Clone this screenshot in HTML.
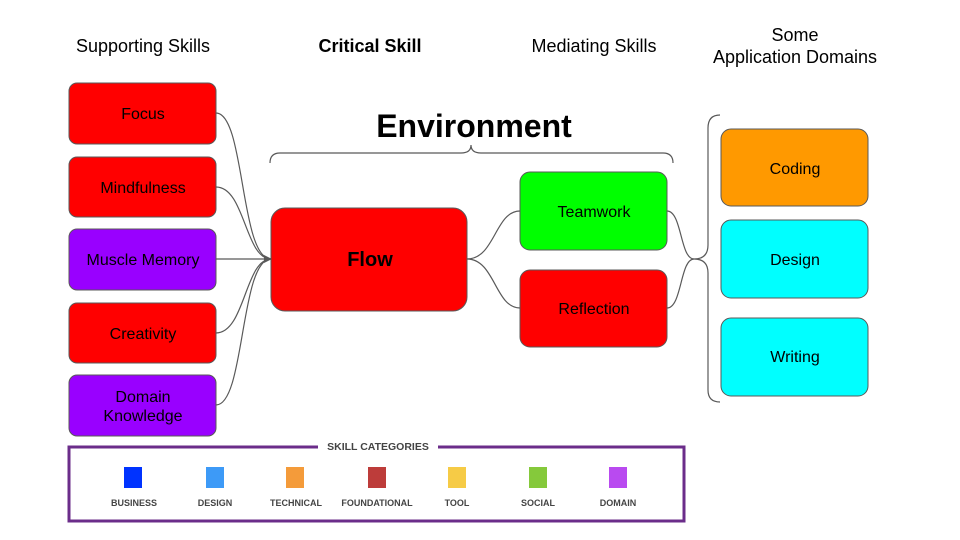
<!DOCTYPE html>
<html><head><meta charset="utf-8"><style>
html,body{margin:0;padding:0;background:#fff;}
svg{display:block;font-family:"Liberation Sans",Arial,sans-serif;}
</style></head><body>
<svg width="960" height="540" viewBox="0 0 960 540">
<g font-size="18" text-anchor="middle" fill="#000">
<text x="143" y="52">Supporting Skills</text>
<text x="370" y="52" font-weight="bold">Critical Skill</text>
<text x="594" y="52">Mediating Skills</text>
<text x="795" y="41">Some</text>
<text x="795" y="63">Application Domains</text>
</g>
<g fill="none" stroke="#595959" stroke-width="1.2">
<path d="M216,113 C245,113 240,259 271,259"/>
<path d="M216,187 C245,187 245,259 271,259"/>
<path d="M216,259 L271,259"/>
<path d="M216,333 C245,333 245,259 271,259"/>
<path d="M216,405 C245,405 240,259 271,259"/>
<path d="M467,259 C495,259 495,211 520,211"/>
<path d="M467,259 C495,259 495,308 520,308"/>
<path d="M667,211 C682,211 680,259 694,259"/>
<path d="M667,308 C682,308 680,259 694,259"/>
<path d="M270,163 Q270,153 280,153 L461,153 Q471,153 471,145 Q471,153 481,153 L663,153 Q673,153 673,163"/>
<path d="M720,115 Q708,115 708,128 L708,245 Q708,259 694,259 Q708,259 708,273 L708,390 Q708,402 720,402"/>
</g>
<polygon points="264,255 272,259 264,263" fill="#595959"/>
<g stroke="#595959" stroke-width="1">
<rect x="69" y="83" width="147" height="61" rx="8" fill="#ff0000"/>
<rect x="69" y="157" width="147" height="60" rx="8" fill="#ff0000"/>
<rect x="69" y="229" width="147" height="61" rx="8" fill="#9900ff"/>
<rect x="69" y="303" width="147" height="60" rx="8" fill="#ff0000"/>
<rect x="69" y="375" width="147" height="61" rx="8" fill="#9900ff"/>
<rect x="271" y="208" width="196" height="103" rx="14" fill="#ff0000"/>
<rect x="520" y="172" width="147" height="78" rx="10" fill="#00ff00"/>
<rect x="520" y="270" width="147" height="77" rx="10" fill="#ff0000"/>
<rect x="721" y="129" width="147" height="77" rx="10" fill="#ff9900"/>
<rect x="721" y="220" width="147" height="78" rx="10" fill="#00ffff"/>
<rect x="721" y="318" width="147" height="78" rx="10" fill="#00ffff"/>
</g>
<g font-size="16" text-anchor="middle" fill="#000">
<text x="143" y="119">Focus</text>
<text x="143" y="193">Mindfulness</text>
<text x="143" y="265">Muscle Memory</text>
<text x="143" y="339">Creativity</text>
<text x="143" y="402">Domain</text>
<text x="143" y="421">Knowledge</text>
<text x="594" y="217">Teamwork</text>
<text x="594" y="314">Reflection</text>
<text x="795" y="174">Coding</text>
<text x="795" y="265">Design</text>
<text x="795" y="362">Writing</text>
<text x="370" y="266" font-size="20" font-weight="bold">Flow</text>
<text x="474" y="137" font-size="32" font-weight="bold">Environment</text>
</g>
<rect x="69" y="447" width="615" height="74" fill="none" stroke="#6b2d8a" stroke-width="3"/>
<rect x="318" y="438" width="120" height="16" fill="#fff"/>
<text x="378" y="450" font-size="10.5" font-weight="bold" fill="#444" text-anchor="middle">SKILL CATEGORIES</text>
<g>
<rect x="124" y="467" width="18" height="21" fill="#0033ff"/>
<rect x="206" y="467" width="18" height="21" fill="#3d9af7"/>
<rect x="286" y="467" width="18" height="21" fill="#f49b3a"/>
<rect x="368" y="467" width="18" height="21" fill="#bd3c3a"/>
<rect x="448" y="467" width="18" height="21" fill="#f6cb46"/>
<rect x="529" y="467" width="18" height="21" fill="#85c93b"/>
<rect x="609" y="467" width="18" height="21" fill="#b94af0"/>
</g>
<g font-size="9" font-weight="bold" fill="#444" text-anchor="middle">
<text x="134" y="506">BUSINESS</text>
<text x="215" y="506">DESIGN</text>
<text x="296" y="506">TECHNICAL</text>
<text x="377" y="506">FOUNDATIONAL</text>
<text x="457" y="506">TOOL</text>
<text x="538" y="506">SOCIAL</text>
<text x="618" y="506">DOMAIN</text>
</g>
</svg>
</body></html>
